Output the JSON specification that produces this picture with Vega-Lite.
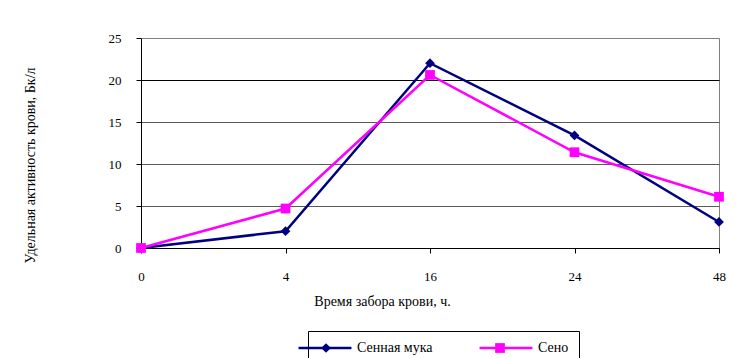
{
  "$schema": "https://vega.github.io/schema/vega-lite/v6.json",
  "width": 578,
  "height": 210,
  "autosize": {"type": "none"},
  "padding": {"left": 141, "top": 38, "right": 23, "bottom": 110},
  "background": "white",
  "config": {
    "font": "Liberation Serif, Times New Roman, serif",
    "axis": {"labelFont": "Liberation Serif, Times New Roman, serif", "titleFont": "Liberation Serif, Times New Roman, serif"},
    "legend": {"labelFont": "Liberation Serif, Times New Roman, serif"},
    "view": {"stroke": "#808080", "strokeWidth": 1}
  },
  "data": {
    "values": [
      {"series": "Сенная мука", "time": 0, "value": 0},
      {"series": "Сенная мука", "time": 4, "value": 2.0},
      {"series": "Сенная мука", "time": 16, "value": 22.0},
      {"series": "Сенная мука", "time": 24, "value": 13.4},
      {"series": "Сенная мука", "time": 48, "value": 3.1},
      {"series": "Сено", "time": 0, "value": 0},
      {"series": "Сено", "time": 4, "value": 4.7},
      {"series": "Сено", "time": 16, "value": 20.6},
      {"series": "Сено", "time": 24, "value": 11.4},
      {"series": "Сено", "time": 48, "value": 6.1}
    ]
  },
  "encoding": {
    "x": {
      "field": "time",
      "type": "ordinal",
      "sort": [0, 4, 16, 24, 48],
      "scale": {"type": "point", "padding": 0},
      "axis": {
        "title": "Время забора крови, ч.",
        "labelAngle": 0,
        "grid": false,
        "domainColor": "black",
        "tickColor": "black",
        "tickSize": 5,
        "labelPadding": 17,
        "labelFontSize": 13,
        "labelColor": "black",
        "titleFontSize": 14,
        "titleFontWeight": "normal",
        "titleColor": "black",
        "titleX": 241,
        "titleY": 53,
        "titleAlign": "center",
        "titleBaseline": "middle"
      }
    },
    "y": {
      "field": "value",
      "type": "quantitative",
      "scale": {"domain": [0, 25], "nice": false},
      "axis": {
        "title": "Удельная активность крови,  Бк/л",
        "values": [0, 5, 10, 15, 20, 25],
        "domainColor": "black",
        "tickColor": "black",
        "tickSize": 5,
        "labelPadding": 15,
        "labelFontSize": 13,
        "labelColor": "black",
        "titleFontSize": 14,
        "titleFontWeight": "normal",
        "titleColor": "black",
        "titleX": -111,
        "titleY": 127,
        "titleAlign": "center",
        "titleBaseline": "middle",
        "gridColor": {
          "condition": [
            {"test": "datum.value === 20", "value": "black"},
            {"test": "datum.value === 25", "value": "#808080"}
          ],
          "value": "#5a5a5a"
        },
        "gridWidth": 1
      }
    }
  },
  "layer": [
    {
      "mark": {"type": "line", "strokeWidth": 2.5},
      "encoding": {
        "color": {
          "field": "series",
          "type": "nominal",
          "scale": {"domain": ["Сенная мука", "Сено"], "range": ["#000080", "#FF00FF"]},
          "legend": {
            "title": null,
            "orient": "none",
            "legendX": 167,
            "legendY": 293,
            "direction": "horizontal",
            "strokeColor": "black",
            "padding": 10,
            "labelFontSize": 14,
            "labelColor": "black",
            "labelOffset": 25,
            "columnPadding": 41,
            "symbolType": "M-5,0H5",
            "symbolSize": 112,
            "symbolStrokeWidth": 2.5
          }
        }
      }
    },
    {
      "mark": {"type": "point", "filled": true, "opacity": 1, "size": 95},
      "encoding": {
        "fill": {
          "field": "series",
          "type": "nominal",
          "scale": {"range": ["#000080", "#FF00FF"]},
          "legend": {
            "title": null,
            "orient": "none",
            "legendX": 168,
            "legendY": 293,
            "direction": "horizontal",
            "padding": 10,
            "labelExpr": "''",
            "labelFontSize": 14,
            "labelOffset": 0,
            "columnPadding": 160,
            "symbolSize": 95,
            "symbolStrokeWidth": 0
          }
        },
        "shape": {
          "field": "series",
          "type": "nominal",
          "scale": {"range": ["diamond", "square"]},
          "legend": {
            "title": null,
            "orient": "none",
            "legendX": 168,
            "legendY": 293,
            "direction": "horizontal",
            "padding": 10,
            "labelExpr": "''",
            "labelFontSize": 14,
            "labelOffset": 0,
            "columnPadding": 160,
            "symbolSize": 95,
            "symbolStrokeWidth": 0
          }
        }
      }
    }
  ]
}
